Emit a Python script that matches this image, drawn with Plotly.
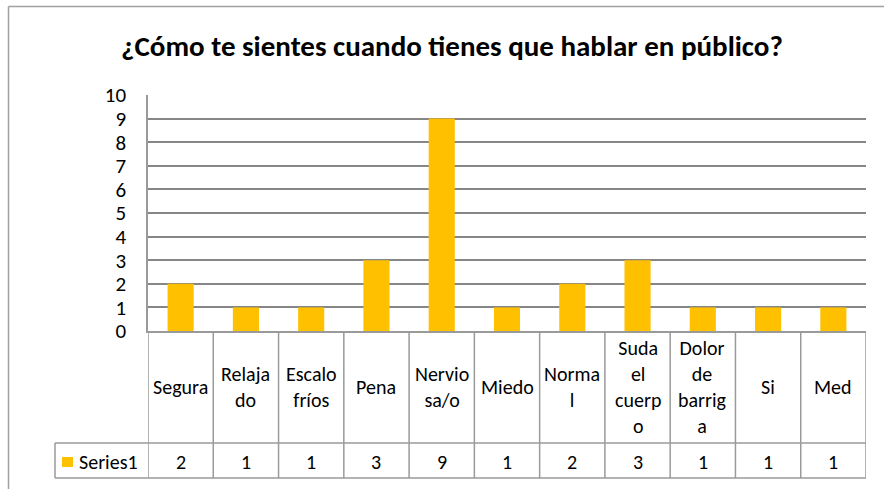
import plotly.graph_objects as go

# Survey answers: how people feel when they have to speak in public
categories = ["Segura", "Relajado", "Escalofríos", "Pena", "Nerviosa/o", "Miedo",
              "Normal", "Suda el cuerpo", "Dolor de barriga", "Si", "Med"]
# category labels as wrapped inside the data-table cells
cell_labels = ["Segura", "Relaja<br>do", "Escalo<br>fríos", "Pena", "Nervio<br>sa/o", "Miedo",
               "Norma<br>l", "Suda<br>el<br>cuerp<br>o", "Dolor<br>de<br>barrig<br>a", "Si", "Med"]
values = [2, 1, 1, 3, 9, 1, 2, 3, 1, 1, 1]
series_name = "Series1"
y_ticks = list(range(0, 11))

title_text = "¿Cómo te sientes cuando tienes que hablar en público?"

W, H = 884, 489
ML, MR, MT, MB = 148, 18, 95, 158
PW, PH = W - ML - MR, H - MT - MB
FONT = "Carlito, Calibri, Lato, sans-serif"
GRID = "#868686"
LINE = "#9a9a9a"
BAR = "#FFC000"


def px_x(px):
    """pixel column -> paper x"""
    return (px - ML) / PW


def px_y(py):
    """pixel row -> paper y"""
    return (H - MB - py) / PH


fig = go.Figure(go.Bar(x=categories, y=values, name=series_name,
                       marker=dict(color=BAR, line=dict(width=0))))

n = len(categories)
row1_bottom = 443   # bottom of the category-label row
row2_bottom = 478   # bottom of the series row
left_cell = 55      # left edge of the series-name cell

shapes = []
# outer chart frame (top and left edges)
shapes.append(dict(type="line", xref="paper", yref="paper",
                   x0=px_x(8.5), x1=px_x(W + 5), y0=px_y(6.5), y1=px_y(6.5),
                   line=dict(color="#a0a0a0", width=1.5)))
shapes.append(dict(type="line", xref="paper", yref="paper",
                   x0=px_x(8.5), x1=px_x(8.5), y0=px_y(6.5), y1=px_y(H + 5),
                   line=dict(color="#a0a0a0", width=1.5)))
# data table grid
for yy in (row1_bottom, row2_bottom):
    shapes.append(dict(type="line", xref="paper", yref="paper",
                       x0=px_x(left_cell), x1=1, y0=px_y(yy), y1=px_y(yy),
                       line=dict(color=LINE, width=1.5)))
shapes.append(dict(type="line", xref="paper", yref="paper",
                   x0=px_x(left_cell), x1=px_x(left_cell), y0=px_y(row1_bottom), y1=px_y(row2_bottom),
                   line=dict(color=LINE, width=1.5)))
for i in range(n + 1):
    shapes.append(dict(type="line", xref="x", yref="paper",
                       x0=i - 0.5, x1=i - 0.5, y0=0, y1=px_y(row2_bottom),
                       line=dict(color=LINE, width=1.5)))
# legend key swatch
shapes.append(dict(type="rect", xref="paper", yref="paper",
                   x0=px_x(62), x1=px_x(73), y0=px_y(457), y1=px_y(467),
                   fillcolor=BAR, line=dict(width=0)))

annotations = []
for cat, lab, v in zip(categories, cell_labels, values):
    annotations.append(dict(x=cat, xref="x", y=px_y((331 + row1_bottom) / 2), yref="paper",
                            text=lab, showarrow=False, xanchor="center", yanchor="middle",
                            font=dict(family=FONT, size=20, color="#000")))
    annotations.append(dict(x=cat, xref="x", y=px_y((row1_bottom + row2_bottom) / 2 + 1), yref="paper",
                            text=str(v), showarrow=False, xanchor="center", yanchor="middle",
                            font=dict(family=FONT, size=20, color="#000")))
annotations.append(dict(x=px_x(77), xref="paper", y=px_y((row1_bottom + row2_bottom) / 2 + 1), yref="paper",
                        text=series_name, showarrow=False, xanchor="left", yanchor="middle",
                        font=dict(family=FONT, size=20, color="#000")))

fig.update_layout(
    width=W, height=H,
    margin=dict(l=ML, r=MR, t=MT, b=MB, pad=0),
    paper_bgcolor="white", plot_bgcolor="white",
    showlegend=False,
    bargap=0.6,
    title=dict(text="<b>" + title_text + "</b>", x=452 / W, xanchor="center",
               y=1 - 46 / H, yanchor="middle", xref="container", yref="container",
               font=dict(family=FONT, size=29, color="#000")),
    xaxis=dict(type="category", range=[-0.5, n - 0.5], showticklabels=False,
               showgrid=False, showline=True, linecolor=LINE, linewidth=1.5,
               ticks="", zeroline=False),
    yaxis=dict(range=[0, 10], tickvals=y_ticks, ticktext=[str(t) for t in y_ticks],
               showgrid=True, gridcolor=GRID, gridwidth=1.5,
               showline=True, linecolor=LINE, linewidth=1.5, zeroline=False,
               ticks="", ticklabelstandoff=16,
               tickfont=dict(family=FONT, size=21, color="#000")),
    shapes=shapes,
    annotations=annotations,
)

fig.write_html("out.html")
